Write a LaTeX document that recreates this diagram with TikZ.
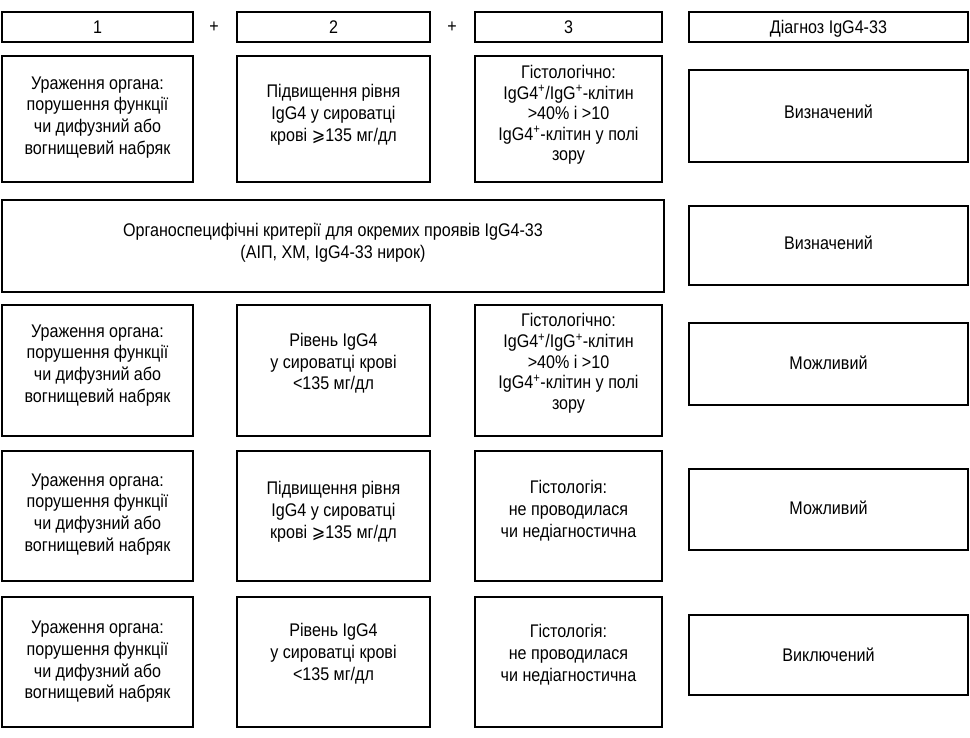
\documentclass[tikz,border=0pt]{standalone}
\usepackage{fontspec}
\setmainfont[FakeStretch=0.88]{Liberation Sans}
\newfontfamily\symf[FakeStretch=0.88]{DejaVu Sans}
\newcommand{\gesl}{{\symf ⩾}}
\begin{document}
\begin{tikzpicture}[x=1pt,y=-1pt,
  box/.style={draw, line width=1.6pt, inner sep=0pt, align=center,
    font=\fontsize{18.3}{21.7}\selectfont},
  tight/.style={font=\fontsize{18.3}{20.6}\selectfont},
  lift/.style={text depth=#1},
  plus/.style={inner sep=0pt, font=\fontsize{18.3}{21.7}\selectfont}]
\useasboundingbox[fill=white] (0,0) rectangle (970,738);
% header
\node[box, minimum width=191pt, minimum height=30pt] (h1) at (97.5,27) {1};
\node[plus] (p1) at (214,27) {+};
\node[box, minimum width=193pt, minimum height=30pt] (h2) at (333.5,27) {2};
\node[plus] (p2) at (452,27) {+};
\node[box, minimum width=187pt, minimum height=30pt] (h3) at (568.5,27) {3};
\node[box, lift=0pt, minimum width=279pt, minimum height=30pt] (h4) at (828.5,27) {Діагноз IgG4-33};
% row 1
\node[box, lift=7pt, minimum width=191pt, minimum height=126pt] (a1) at (97.5,119) {Ураження органа:\\порушення функції\\чи дифузний або\\вогнищевий набряк};
\node[box, lift=12pt, minimum width=193pt, minimum height=126pt] (a2) at (333.5,119) {Підвищення рівня\\IgG4 у сироватці\\крові \gesl135 мг/дл};
\node[box, tight, lift=12pt, minimum width=187pt, minimum height=126pt] (a3) at (568.5,119) {Гістологічно:\\IgG4\textsuperscript{+}/IgG\textsuperscript{+}-клітин\\>40\% і >10\\IgG4\textsuperscript{+}-клітин у полі\\зору};
\node[box, lift=8pt, minimum width=279pt, minimum height=92pt] (a4) at (828.5,116) {Визначений};
% row 2
\node[box, lift=10pt, minimum width=662pt, minimum height=92pt] (b1) at (333,246) {Органоспецифічні критерії для окремих проявів IgG4-33\\(АІП, ХМ, IgG4-33 нирок)};
\node[box, lift=5pt, minimum width=279pt, minimum height=79pt] (b4) at (828.5,245.5) {Визначений};
% row 3
\node[box, lift=14pt, minimum width=191pt, minimum height=131pt] (c1) at (97.5,370.5) {Ураження органа:\\порушення функції\\чи дифузний або\\вогнищевий набряк};
\node[box, lift=18pt, minimum width=193pt, minimum height=131pt] (c2) at (333.5,370.5) {Рівень IgG4\\у сироватці крові\\<135 мг/дл};
\node[box, tight, lift=18pt, minimum width=187pt, minimum height=131pt] (c3) at (568.5,370.5) {Гістологічно:\\IgG4\textsuperscript{+}/IgG\textsuperscript{+}-клітин\\>40\% і >10\\IgG4\textsuperscript{+}-клітин у полі\\зору};
\node[box, lift=2pt, minimum width=279pt, minimum height=82pt] (c4) at (828.5,364) {Можливий};
% row 4
\node[box, lift=7pt, minimum width=191pt, minimum height=130pt] (d1) at (97.5,516) {Ураження органа:\\порушення функції\\чи дифузний або\\вогнищевий набряк};
\node[box, lift=12pt, minimum width=193pt, minimum height=130pt] (d2) at (333.5,516) {Підвищення рівня\\IgG4 у сироватці\\крові \gesl135 мг/дл};
\node[box, lift=14pt, minimum width=187pt, minimum height=130pt] (d3) at (568.5,516) {Гістологія:\\не проводилася\\чи недіагностична};
\node[box, lift=3pt, minimum width=279pt, minimum height=81pt] (d4) at (828.5,509.5) {Можливий};
% row 5
\node[box, lift=4pt, minimum width=191pt, minimum height=130pt] (e1) at (97.5,662) {Ураження органа:\\порушення функції\\чи дифузний або\\вогнищевий набряк};
\node[box, lift=20pt, minimum width=193pt, minimum height=130pt] (e2) at (333.5,662) {Рівень IgG4\\у сироватці крові\\<135 мг/дл};
\node[box, lift=18pt, minimum width=187pt, minimum height=130pt] (e3) at (568.5,662) {Гістологія:\\не проводилася\\чи недіагностична};
\node[box, lift=0pt, minimum width=279pt, minimum height=80pt] (e4) at (828.5,655) {Виключений};
\end{tikzpicture}
\end{document}
